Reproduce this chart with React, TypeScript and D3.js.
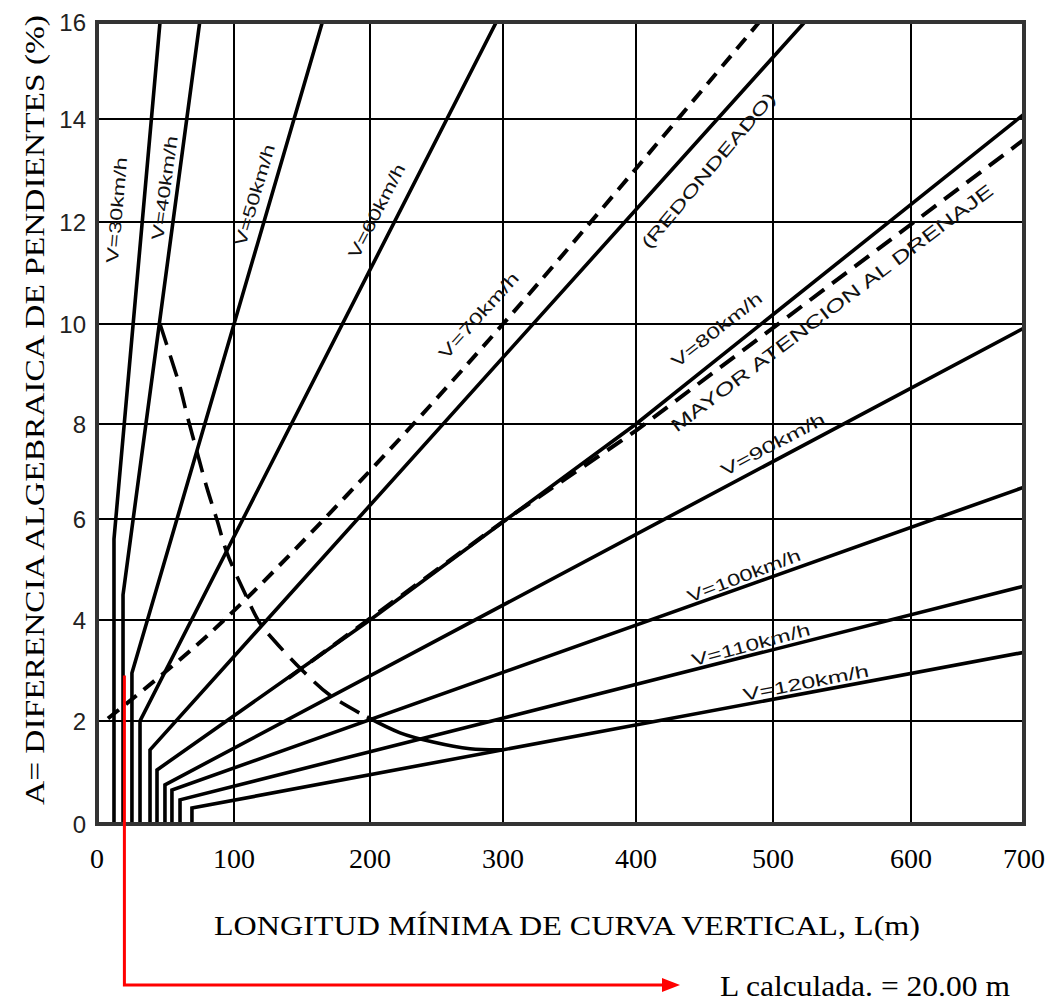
import React from "react";
import * as d3 from "d3";

// ---- data (L in metres, A in %) ----
const xTicks = [0, 100, 200, 300, 400, 500, 600, 700];
const yTicks = [0, 2, 4, 6, 8, 10, 12, 14, 16];

const speedNames = [
  "V=30km/h", "V=40km/h", "V=50km/h", "V=60km/h", "V=70km/h",
  "V=80km/h", "V=90km/h", "V=100km/h", "V=110km/h", "V=120km/h",
];

// each design-speed line: vertical at L min, then L grows with A
const v30: [number, number][] = [[12.4, 0], [12.4, 5.6], [46, 16]];
const v40: [number, number][] = [[19, 0], [19, 4.5], [75, 16]];
const v50: [number, number][] = [[25.5, 0], [25.5, 2.95], [165, 16]];
const v60: [number, number][] = [[31.4, 0], [31.4, 2.0], [295, 16]];
const v70: [number, number][] = [[38.7, 0], [38.7, 1.44], [523, 16]];
const v80: [number, number][] = [[43.8, 0], [43.8, 1.05], [200, 4.0], [400, 8.0], [700, 14.1]];
const v90: [number, number][] = [[49.6, 0], [49.6, 0.76], [700, 9.92]];
const v100: [number, number][] = [[54.7, 0], [54.7, 0.66], [700, 6.67]];
const v110: [number, number][] = [[60.6, 0], [60.6, 0.47], [700, 4.67]];
const v120: [number, number][] = [[69.3, 0], [69.3, 0.31], [700, 3.36]];
const speedSeries = [v30, v40, v50, v60, v70, v80, v90, v100, v110, v120];

// "(REDONDEADO)" limit
const redondeado: [number, number][] = [[8, 2.05], [83, 3.75], [183, 6.5], [300, 10.0], [490, 16]];
// "MAYOR ATENCION AL DRENAJE" limit
const drenaje: [number, number][] = [[140, 2.85], [300, 5.95], [400, 7.86], [700, 13.6]];
// minimum-length envelope curve
const envelopeDashed: [number, number][] = [
  [46, 10.0], [54, 9.32], [60.6, 8.74], [65.7, 8.18], [73, 7.41], [80.3, 6.65],
  [87.6, 5.98], [94.9, 5.33], [108, 4.53], [119, 3.94], [130, 3.58],
  [150.7, 2.99], [170.6, 2.51], [197.8, 2.08],
];
const envelopeSolid: [number, number][] = [
  [197.8, 2.08], [222.6, 1.77], [247.4, 1.59], [275.2, 1.46], [300, 1.44],
];

const lCalc = 20.0;
const aCalc = 2.9;

// ---- layout ----
const W = 1049;
const H = 1003;
const xGridPx = [97, 234, 370, 503, 636, 773, 911, 1024];
const yGridPx = [824, 721, 620, 519, 424, 324, 222, 119, 22];

// label anchors (data space), rotation and drawn length
const speedLabelAt: [number, number][] = [
  [14.6, 12.23], [49.6, 12.66], [115.4, 12.52], [205.3, 12.21], [282, 10.16],
  [459, 9.88], [500, 7.56], [478.8, 4.87], [483.9, 3.5], [523.9, 2.75],
];
const speedLabelAngle = [-85, -82, -73.5, -62.5, -48, -38, -28, -21, -15, -11];
const speedLabelLen = [106, 105, 105, 104, 110, 110, 115, 120, 122, 128];

const xScale = d3.scaleLinear().domain(xTicks).range(xGridPx);
const yScale = d3.scaleLinear().domain(yTicks).range(yGridPx);

const line = d3
  .line<[number, number]>()
  .x((d) => xScale(d[0]))
  .y((d) => yScale(d[1]));
const smooth = d3
  .line<[number, number]>()
  .x((d) => xScale(d[0]))
  .y((d) => yScale(d[1]))
  .curve(d3.curveCatmullRom.alpha(0.5));

const serif = "'Liberation Serif', 'Times New Roman', serif";
const sans = "'Liberation Sans', Arial, sans-serif";

function RotLabel({ at, angle, len, text, size = 17 }: any) {
  const x = xScale(at[0]);
  const y = yScale(at[1]);
  return (
    <text
      x={0}
      y={0}
      transform={`translate(${x},${y}) rotate(${angle})`}
      textAnchor="middle"
      dominantBaseline="central"
      fontFamily={sans}
      fontSize={size}
      textLength={len}
      lengthAdjust="spacingAndGlyphs"
      fill="#111"
    >
      {text}
    </text>
  );
}

export default function App() {
  const x0 = xScale(0);
  const x1 = xScale(700);
  const y0 = yScale(0);
  const y1 = yScale(16);
  const redX = xScale(lCalc);
  const redTop = yScale(aCalc);
  const redY = 985;
  const arrowTip = 680;

  return (
    <svg
      width={W}
      height={H}
      viewBox={`0 0 ${W} ${H}`}
      style={{ position: "absolute", left: 0, top: 0, background: "#fff" }}
    >
      <defs>
        <clipPath id="plot">
          <rect x={x0} y={y1} width={x1 - x0} height={y0 - y1} />
        </clipPath>
      </defs>
      <rect width={W} height={H} fill="#fff" />

      {/* grid */}
      <g stroke="#000" strokeWidth={2}>
        {xTicks.slice(1, -1).map((t) => (
          <line key={"gx" + t} x1={xScale(t)} x2={xScale(t)} y1={y0} y2={y1} />
        ))}
        {yTicks.slice(1, -1).map((t) => (
          <line key={"gy" + t} x1={x0} x2={x1} y1={yScale(t)} y2={yScale(t)} />
        ))}
      </g>

      {/* curves */}
      <g clipPath="url(#plot)" fill="none" stroke="#000">
        {speedSeries.map((s, i) => (
          <path key={"v" + i} d={line(s) || ""} strokeWidth={3.6} />
        ))}
        <path d={smooth(redondeado) || ""} strokeWidth={4} strokeDasharray="14 9" />
        <path d={line(drenaje) || ""} strokeWidth={4} strokeDasharray="18 10" />
        <path d={smooth(envelopeDashed) || ""} strokeWidth={3.6} strokeDasharray="22 11" />
        <path d={smooth(envelopeSolid) || ""} strokeWidth={3.6} />
      </g>

      {/* frame */}
      <rect x={x0} y={y1} width={x1 - x0} height={y0 - y1} fill="none" stroke="#333" strokeWidth={4} />

      {/* line labels */}
      {speedNames.map((n, i) => (
        <RotLabel key={n} at={speedLabelAt[i]} angle={speedLabelAngle[i]} len={speedLabelLen[i]} text={n} />
      ))}
      <RotLabel at={[453, 13.0]} angle={-50} len={198} text="(REDONDEADO)" />
      <RotLabel at={[542.8, 10.31]} angle={-37} len={398} text="MAYOR ATENCION AL DRENAJE" size={18} />

      {/* y tick labels */}
      {yTicks.map((t) => (
        <text
          key={"yl" + t}
          x={86}
          y={yScale(t)}
          textAnchor="end"
          dominantBaseline="central"
          fontFamily={sans}
          fontSize={24}
          fill="#222"
        >
          {t}
        </text>
      ))}
      {/* x tick labels */}
      {xTicks.map((t) => (
        <text
          key={"xl" + t}
          x={xScale(t)}
          y={868}
          textAnchor="middle"
          fontFamily={serif}
          fontSize={28}
          fill="#000"
        >
          {t}
        </text>
      ))}

      {/* axis titles */}
      <text
        x={567}
        y={935}
        textAnchor="middle"
        fontFamily={serif}
        fontSize={28}
        textLength={706}
        lengthAdjust="spacingAndGlyphs"
      >
        LONGITUD MÍNIMA DE CURVA VERTICAL, L(m)
      </text>
      <text
        transform="translate(44,410) rotate(-90)"
        textAnchor="middle"
        fontFamily={serif}
        fontSize={27}
        textLength={790}
        lengthAdjust="spacingAndGlyphs"
      >
        A= DIFERENCIA ALGEBRAICA DE PENDIENTES (%)
      </text>

      {/* computed length marker */}
      <path
        d={`M${redX},${redTop} L${redX},${redY} L${arrowTip - 16},${redY}`}
        fill="none"
        stroke="#ff0000"
        strokeWidth={3}
      />
      <path
        d={`M${arrowTip},${redY} L${arrowTip - 18},${redY - 7} L${arrowTip - 18},${redY + 7} Z`}
        fill="#ff0000"
      />
      <text
        x={720}
        y={996}
        fontFamily={serif}
        fontSize={29}
        fill="#000"
        textLength={290}
        lengthAdjust="spacingAndGlyphs"
      >
        L calculada. = 20.00 m
      </text>
    </svg>
  );
}
